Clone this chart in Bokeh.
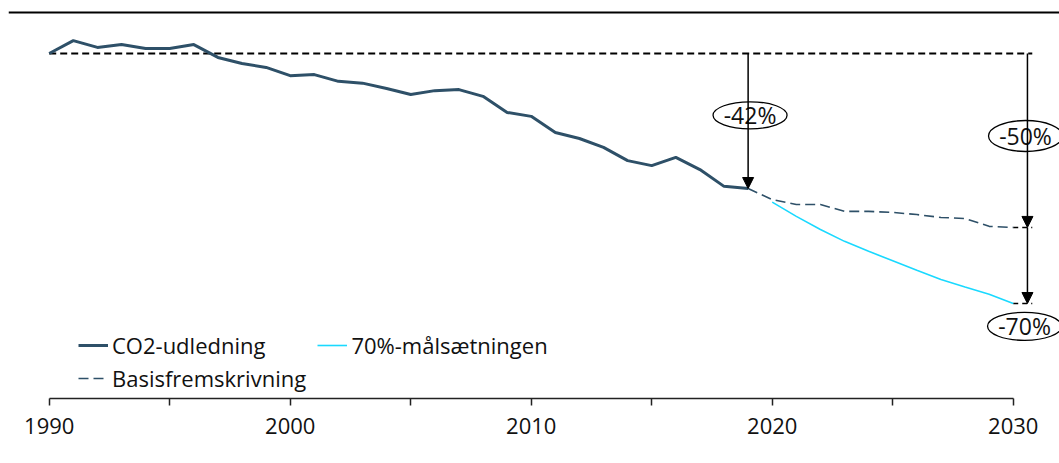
from bokeh.plotting import figure
from bokeh.models import Legend, LegendItem, Arrow, NormalHead, Span, FixedTicker
from bokeh.core.properties import value
from bokeh.embed import file_html
from bokeh.resources import INLINE

# ---------------- data (index, 1990 = 100) ----------------
years = list(range(1990, 2020))
co2 = [100.0, 103.6, 101.7, 102.5, 101.4, 101.4, 102.5, 98.9, 97.2, 96.1,
       93.8, 94.1, 92.2, 91.7, 90.2, 88.5, 89.6, 89.9, 88.0, 83.5,
       82.4, 77.9, 76.2, 73.7, 70.0, 68.6, 70.9, 67.5, 62.8, 62.2]
basis_years = list(range(2019, 2031))
basis = [62.2, 59.1, 57.7, 57.7, 55.8, 55.8, 55.5, 54.9, 54.1, 53.8, 51.6, 51.3]
target_years = list(range(2020, 2031))
target = [58.4, 54.4, 50.7, 47.4, 44.6, 42.0, 39.3, 36.7, 34.6, 32.6, 30.0]
tick_years = [1990, 1995, 2000, 2005, 2010, 2015, 2020, 2025, 2030]
tick_labels = ["1990", "", "2000", "", "2010", "", "2020", "", "2030"]
series_names = ["CO2-udledning", "70%-målsætningen", "Basisfremskrivning"]
ann_labels = ["-42%", "-50%", "-70%"]
base_level = 100.0

FONT = "Open Sans"
DARK = "#2E5068"
CYAN = "#1AD9FF"

p = figure(width=1059, height=463, output_backend="svg", toolbar_location=None,
           x_range=(1988.311, 2031.92), y_range=(3.40, 114.84),
           min_border_left=8, min_border_right=0, min_border_top=0, min_border_bottom=65)
p.outline_line_color = None
p.xgrid.visible = False
p.ygrid.visible = False
p.yaxis.visible = False
p.background_fill_color = "white"
p.border_fill_color = "white"

# top rule
p.add_layout(Span(location=111.48, dimension="width", line_color="black", line_width=2.2))

# baseline (1990 level) dashed
arrow_x = 2030.59
line_end = 2030.79
p.line([years[0], line_end], [base_level, base_level], line_color="black", line_width=1.8, line_dash="7 4")
# short caps at 2030
p.line([2030, line_end], [basis[-1], basis[-1]], line_color="black", line_width=1.5, line_dash="5 4")
p.line([2030, line_end], [target[-1], target[-1]], line_color="black", line_width=1.5, line_dash="5 4")

r_co2 = p.line(years, co2, line_color=DARK, line_width=3)
r_basis = p.line(basis_years, basis, line_color=DARK, line_width=1.6, line_dash="10 5")
r_target = p.line(target_years, target, line_color=CYAN, line_width=1.6)

# arrows
def add_arrow(x, y0, y1):
    p.add_layout(Arrow(end=NormalHead(size=11, fill_color="black", line_color="black"),
                       x_start=x, y_start=y0, x_end=x, y_end=y1,
                       line_color="black", line_width=1.5))

add_arrow(years[-1], base_level, co2[-1])
add_arrow(arrow_x, base_level, basis[-1])
add_arrow(arrow_x, basis[-1], target[-1])

# ellipse labels
lab_x = [2019.08, 2030.51, 2030.47]
lab_y = [82.7, 76.9, 23.6]
lab_h = [27, 31, 28]
p.ellipse(lab_x, lab_y, width=74, height=lab_h, width_units="screen", height_units="screen",
          fill_color="white", line_color="black", line_width=1.3)
p.text(lab_x, lab_y, text=ann_labels, text_align="center", text_baseline="middle",
       text_font=value(FONT), text_font_size="23px", text_color="#111111")

# x axis
ax = p.xaxis[0]
ax.ticker = FixedTicker(ticks=tick_years)
ax.major_label_overrides = {y: l for y, l in zip(tick_years, tick_labels)}
ax.bounds = (tick_years[0], tick_years[-1])
ax.axis_line_color = "#222222"
ax.axis_line_width = 1.5
ax.major_tick_line_color = "#222222"
ax.major_tick_line_width = 1.5
ax.major_tick_in = 0
ax.major_tick_out = 7
ax.minor_tick_line_color = None
ax.major_label_text_font = FONT
ax.major_label_text_font_size = "22px"
ax.major_label_text_color = "#111111"
ax.major_label_standoff = 12

# legends
def make_legend(items, loc, spacing):
    lg = Legend(items=items, location=loc, orientation="horizontal",
                label_text_font=FONT, label_text_font_size="22px", label_text_color="#111111",
                glyph_width=30, glyph_height=24, label_height=24, label_standoff=4,
                spacing=spacing, padding=0, margin=0, border_line_color=None,
                background_fill_alpha=0)
    p.add_layout(lg)

make_legend([LegendItem(label=series_names[0], renderers=[r_co2]),
             LegendItem(label=series_names[1], renderers=[r_target])], (70, 38), 52)
make_legend([LegendItem(label=series_names[2], renderers=[r_basis])], (70, 5), 38)

open("out.html", "w").write(file_html(p, INLINE))
